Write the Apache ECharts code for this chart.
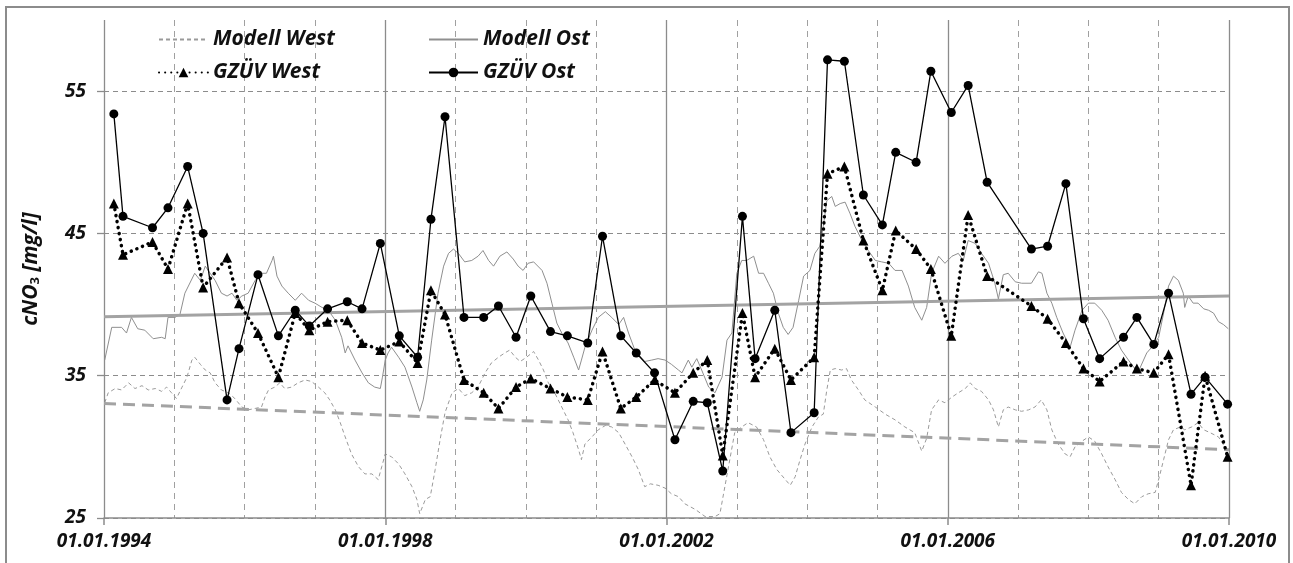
<!DOCTYPE html>
<html>
<head>
<meta charset="utf-8">
<script src="https://cdn.jsdelivr.net/npm/echarts@6/dist/echarts.min.js"></script>
<style>
  html, body { margin: 0; padding: 0; background: #fff; }
  #chart { width: 1293px; height: 563px; }
</style>
</head>
<body>
<div id="chart"></div>
<script>
// decimal years of the GZÜV samples (shared by both stations)
const sampleYears = [1994.14, 1994.27, 1994.69, 1994.91, 1995.19, 1995.41, 1995.75, 1995.92, 1996.19, 1996.48,
  1996.72, 1996.92, 1997.18, 1997.46, 1997.67, 1997.93, 1998.2, 1998.46, 1998.65, 1998.85,
  1999.12, 1999.4, 1999.61, 1999.86, 2000.07, 2000.35, 2000.59, 2000.88, 2001.09, 2001.35,
  2001.57, 2001.83, 2002.12, 2002.38, 2002.58, 2002.8, 2003.08, 2003.26, 2003.54, 2003.77,
  2004.1, 2004.29, 2004.53, 2004.8, 2005.07, 2005.26, 2005.55, 2005.76, 2006.05, 2006.29,
  2006.56, 2007.19, 2007.42, 2007.68, 2007.93, 2008.16, 2008.5, 2008.69, 2008.93, 2009.14,
  2009.46, 2009.66, 2009.98]
const gzuevOst = [53.4, 46.2, 45.4, 46.8, 49.7, 45.0, 33.3, 36.9, 42.1, 37.8,
  39.6, 38.5, 39.7, 40.2, 39.7, 44.3, 37.8, 36.3, 46.0, 53.2,
  39.1, 39.1, 39.9, 37.7, 40.6, 38.1, 37.8, 37.3, 44.8, 37.8,
  36.6, 35.2, 30.5, 33.2, 33.1, 28.3, 46.2, 36.2, 39.6, 31.0,
  32.4, 57.2, 57.1, 47.7, 45.6, 50.7, 50.0, 56.4, 53.5, 55.4,
  48.6, 43.9, 44.1, 48.5, 39.0, 36.2, 37.7, 39.1, 37.2, 40.8,
  33.7, 34.9, 33.0]
const gzuevWest = [47.1, 43.5, 44.4, 42.5, 47.1, 41.2, 43.3, 40.1, 38.0, 34.9,
  39.4, 38.2, 38.8, 38.9, 37.3, 36.8, 37.4, 35.9, 41.0, 39.3,
  34.7, 33.8, 32.7, 34.2, 34.8, 34.1, 33.5, 33.3, 36.7, 32.7,
  33.5, 34.7, 33.8, 35.2, 36.1, 29.4, 39.4, 34.9, 36.9, 34.7,
  36.3, 49.2, 49.7, 44.5, 41.0, 45.2, 43.9, 42.5, 37.8, 46.3,
  42.0, 39.9, 39.0, 37.3, 35.5, 34.6, 36.0, 35.5, 35.2, 36.5,
  27.3, 35.0, 29.3]

const modelOstYears = [1994.01, 1994.11, 1994.25, 1994.32, 1994.39, 1994.48, 1994.58, 1994.70, 1994.82, 1994.87,
  1994.91, 1995.01, 1995.08, 1995.15, 1995.25, 1995.29, 1995.37, 1995.44, 1995.51, 1995.58,
  1995.67, 1995.75, 1995.82, 1995.89, 1995.96, 1996.05, 1996.15, 1996.24, 1996.31, 1996.39,
  1996.41, 1996.46, 1996.53, 1996.62, 1996.72, 1996.81, 1996.91, 1997.00, 1997.10, 1997.19,
  1997.29, 1997.38, 1997.43, 1997.47, 1997.57, 1997.67, 1997.76, 1997.85, 1997.93, 1997.96,
  1998.00, 1998.04, 1998.09, 1998.19, 1998.28, 1998.38, 1998.45, 1998.49, 1998.54, 1998.59,
  1998.66, 1998.75, 1998.83, 1998.90, 1998.97, 1999.04, 1999.13, 1999.23, 1999.32, 1999.39,
  1999.47, 1999.54, 1999.63, 1999.73, 1999.82, 1999.89, 1999.96, 2000.03, 2000.11, 2000.23,
  2000.30, 2000.37, 2000.44, 2000.51, 2000.60, 2000.68, 2000.75, 2000.79, 2000.84, 2000.94,
  2001.03, 2001.13, 2001.22, 2001.32, 2001.39, 2001.46, 2001.55, 2001.69, 2001.79, 2001.88,
  2001.98, 2002.07, 2002.17, 2002.22, 2002.31, 2002.36, 2002.43, 2002.50, 2002.60, 2002.69,
  2002.79, 2002.86, 2002.93, 2003.00, 2003.07, 2003.14, 2003.24, 2003.31, 2003.38, 2003.45,
  2003.52, 2003.59, 2003.66, 2003.73, 2003.80, 2003.88, 2003.95, 2004.04, 2004.11, 2004.18,
  2004.23, 2004.28, 2004.35, 2004.40, 2004.47, 2004.54, 2004.61, 2004.68, 2004.78, 2004.87,
  2004.97, 2005.06, 2005.16, 2005.25, 2005.35, 2005.44, 2005.53, 2005.63, 2005.70, 2005.77,
  2005.87, 2005.96, 2006.06, 2006.15, 2006.22, 2006.29, 2006.39, 2006.48, 2006.58, 2006.67,
  2006.72, 2006.79, 2006.86, 2006.96, 2007.05, 2007.19, 2007.29, 2007.34, 2007.41, 2007.48,
  2007.55, 2007.64, 2007.74, 2007.81, 2007.91, 2008.00, 2008.09, 2008.19, 2008.28, 2008.38,
  2008.47, 2008.57, 2008.66, 2008.73, 2008.83, 2008.90, 2009.00, 2009.07, 2009.14, 2009.21,
  2009.28, 2009.35, 2009.37, 2009.42, 2009.49, 2009.56, 2009.64, 2009.71, 2009.78, 2009.85,
  2009.92, 2009.99]
const modelOst = [36.1, 38.4, 38.4, 38.0, 39.1, 38.3, 38.2, 37.6, 37.7, 37.6,
  39.1, 39.1, 39.3, 40.8, 41.8, 42.2, 41.7, 42.7, 42.2, 41.7,
  40.8, 40.6, 40.8, 40.3, 40.6, 40.8, 41.7, 42.2, 42.2, 43.1,
  43.4, 42.0, 41.3, 40.8, 40.3, 40.8, 40.3, 40.1, 39.8, 39.6,
  38.9, 37.7, 36.6, 37.1, 36.1, 35.2, 34.5, 34.2, 34.1, 34.9,
  36.1, 36.6, 37.0, 36.3, 35.6, 34.2, 33.1, 32.5, 33.3, 34.7,
  37.5, 40.8, 42.7, 43.6, 43.9, 43.6, 43.0, 43.1, 43.4, 43.8,
  43.1, 42.7, 43.4, 43.7, 43.2, 42.7, 42.4, 42.9, 43.0, 42.4,
  41.5, 40.1, 38.7, 38.0, 37.3, 36.3, 35.4, 36.1, 37.0, 38.2,
  39.1, 39.5, 39.1, 38.6, 39.1, 38.0, 36.8, 36.0, 36.1, 36.2,
  36.1, 35.8, 35.4, 35.2, 36.1, 35.6, 36.2, 35.4, 34.2, 33.8,
  34.9, 37.5, 38.0, 42.2, 43.1, 43.1, 43.4, 42.2, 42.2, 41.5,
  40.8, 39.4, 38.4, 37.9, 38.4, 40.3, 42.0, 42.4, 43.6, 44.1,
  45.5, 47.3, 47.6, 46.9, 47.1, 47.2, 46.4, 45.5, 44.5, 43.8,
  43.1, 43.0, 42.9, 42.4, 42.4, 41.3, 39.8, 38.9, 39.8, 42.2,
  43.4, 42.9, 43.4, 43.6, 43.1, 44.5, 44.3, 43.6, 42.9, 41.5,
  40.4, 42.1, 42.2, 41.6, 41.5, 41.5, 42.3, 42.2, 40.8, 40.1,
  39.1, 38.0, 37.0, 38.2, 39.6, 40.1, 40.1, 39.6, 38.9, 37.7,
  36.8, 36.1, 35.5, 35.5, 36.6, 37.0, 37.7, 39.4, 41.3, 42.0,
  41.7, 40.8, 39.8, 40.6, 40.1, 40.1, 39.7, 39.6, 39.4, 38.8,
  38.6, 38.3]

const modelWestYears = [1994.01, 1994.06, 1994.16, 1994.25, 1994.35, 1994.44, 1994.54, 1994.63, 1994.73, 1994.82,
  1994.89, 1994.96, 1995.03, 1995.11, 1995.18, 1995.25, 1995.29, 1995.37, 1995.44, 1995.51,
  1995.58, 1995.67, 1995.77, 1995.86, 1995.96, 1996.05, 1996.15, 1996.24, 1996.29, 1996.34,
  1996.43, 1996.50, 1996.57, 1996.67, 1996.76, 1996.86, 1996.95, 1997.05, 1997.14, 1997.21,
  1997.29, 1997.36, 1997.43, 1997.52, 1997.62, 1997.71, 1997.81, 1997.90, 1997.95, 1998.00,
  1998.09, 1998.19, 1998.28, 1998.38, 1998.45, 1998.49, 1998.57, 1998.64, 1998.71, 1998.78,
  1998.85, 1998.95, 1999.04, 1999.13, 1999.23, 1999.32, 1999.42, 1999.51, 1999.61, 1999.70,
  1999.77, 1999.85, 1999.92, 2000.01, 2000.11, 2000.18, 2000.25, 2000.32, 2000.41, 2000.51,
  2000.60, 2000.67, 2000.75, 2000.79, 2000.84, 2000.94, 2001.03, 2001.13, 2001.22, 2001.32,
  2001.41, 2001.51, 2001.60, 2001.69, 2001.77, 2001.88, 2001.98, 2002.07, 2002.17, 2002.26,
  2002.41, 2002.55, 2002.69, 2002.76, 2002.83, 2002.90, 2002.97, 2003.07, 2003.16, 2003.28,
  2003.38, 2003.47, 2003.57, 2003.69, 2003.76, 2003.83, 2003.90, 2003.97, 2004.07, 2004.16,
  2004.23, 2004.28, 2004.33, 2004.40, 2004.49, 2004.56, 2004.63, 2004.73, 2004.82, 2004.97,
  2005.11, 2005.25, 2005.39, 2005.53, 2005.63, 2005.70, 2005.77, 2005.87, 2005.96, 2006.06,
  2006.15, 2006.25, 2006.32, 2006.39, 2006.48, 2006.58, 2006.65, 2006.72, 2006.79, 2006.86,
  2006.96, 2007.05, 2007.15, 2007.24, 2007.33, 2007.41, 2007.48, 2007.57, 2007.67, 2007.74,
  2007.81, 2007.91, 2008.00, 2008.09, 2008.19, 2008.28, 2008.38, 2008.47, 2008.57, 2008.66,
  2008.76, 2008.85, 2008.95, 2009.02, 2009.07, 2009.14, 2009.21, 2009.31, 2009.37, 2009.47,
  2009.56, 2009.64, 2009.73, 2009.85, 2009.94, 2009.99]
const modelWest = [33.1, 33.8, 34.1, 34.0, 34.5, 34.1, 34.3, 34.0, 34.1, 33.9,
  34.2, 33.8, 33.4, 34.2, 34.9, 36.1, 36.3, 35.8, 35.4, 35.2,
  34.5, 34.0, 33.8, 33.4, 32.8, 32.6, 32.7, 32.8, 33.5, 34.0,
  34.2, 34.5, 34.1, 34.2, 34.5, 34.7, 34.6, 34.2, 33.8, 33.3,
  32.6, 31.7, 30.7, 29.5, 28.6, 28.1, 28.1, 27.7, 28.6, 29.5,
  29.3, 28.8, 28.1, 27.2, 26.3, 25.3, 26.3, 26.5, 28.4, 30.5,
  32.4, 33.8, 34.1, 33.6, 33.8, 34.2, 35.2, 35.9, 36.3, 36.6,
  36.8, 36.3, 36.0, 36.3, 36.7, 36.1, 35.4, 34.5, 33.8, 32.8,
  31.9, 31.0, 29.8, 29.1, 30.2, 30.7, 31.2, 31.5, 31.4, 31.0,
  30.2, 29.3, 28.4, 27.2, 27.4, 27.3, 27.1, 26.7, 26.5, 26.0,
  25.6, 25.1, 25.1, 25.3, 27.2, 29.1, 31.0, 31.4, 31.7, 31.4,
  30.5, 29.3, 28.4, 27.7, 27.3, 27.9, 29.1, 30.2, 31.4, 32.1,
  32.3, 34.0, 35.4, 35.5, 35.4, 35.5, 34.7, 34.0, 33.3, 32.8,
  32.3, 31.9, 31.4, 31.0, 29.7, 30.6, 32.6, 33.3, 33.1, 33.5,
  33.8, 34.1, 34.5, 34.1, 33.9, 33.3, 32.6, 31.4, 32.6, 32.8,
  32.6, 32.5, 32.6, 32.8, 33.3, 32.6, 31.2, 30.2, 29.5, 29.3,
  30.0, 30.4, 30.7, 30.4, 29.5, 28.6, 27.7, 26.8, 26.3, 26.0,
  26.5, 26.7, 26.8, 28.1, 29.1, 30.5, 31.2, 31.4, 31.2, 31.4,
  31.7, 31.2, 31.0, 30.7, 30.0, 29.7]

// linear trends (start / end)
const trendYears = [1994, 2010]
const trendOst = [39.15, 40.6]
const trendWest = [33.05, 29.8]

const yearLabels = [1994, 1998, 2002, 2006, 2010]
const valueLabels = [25, 35, 45, 55]

const zip = (xs, ys) => xs.map((x, i) => [x, ys[i]])

const labelFont = {
  fontFamily: '"Open Sans", Lato, sans-serif',
  fontWeight: 'bold',
  fontStyle: 'italic',
  fontSize: 19,
  color: '#111'
}
const legendFont = Object.assign({}, labelFont, { fontSize: 21 })

// one legend box per entry so the 2x2 layout lines up
function legendBox(item, left, top) {
  return {
    data: [item], left: left, top: top,
    itemWidth: 49, itemHeight: 12,
    textStyle: legendFont
  }
}

const chart = echarts.init(document.getElementById('chart'))

const option = {
  backgroundColor: '#fff',
  animation: false,
  graphic: [{
    type: 'rect',
    shape: { x: 6, y: 7, width: 1283, height: 580 },
    style: { fill: 'none', stroke: '#8c8c8c', lineWidth: 2 },
    silent: true,
    z: -10
  }],
  grid: { left: 104, right: 64, top: 20, bottom: 45 },
  legend: [
    // model lines have no symbol, so hide the legend marker
    legendBox({ name: 'Modell West', itemStyle: { opacity: 0 } }, 153, 24),
    legendBox({ name: 'Modell Ost', itemStyle: { opacity: 0 } }, 423, 24),
    legendBox('GZÜV West', 153, 57),
    legendBox('GZÜV Ost', 423, 57)
  ],
  xAxis: [
    {
      type: 'value', min: 1994, max: 2010,
      axisLine: { lineStyle: { color: '#8c8c8c', width: 1.5 } },
      axisTick: { customValues: yearLabels, length: 7, lineStyle: { color: '#8c8c8c', width: 1.5 } },
      axisLabel: Object.assign({ customValues: yearLabels, margin: 14, formatter: v => '01.01.' + v }, labelFont),
      splitLine: { show: true, lineStyle: { color: '#8c8c8c', width: 1.3 } },
      z: 3
    },
    {
      type: 'value', min: 1994, max: 2010, interval: 1, position: 'top',
      axisLine: { show: false }, axisTick: { show: false }, axisLabel: { show: false },
      splitLine: { show: true, lineStyle: { color: '#a0a0a0', width: 1, type: [6, 5] } }
    }
  ],
  yAxis: {
    type: 'value', min: 25, max: 60,
    name: '{a|cNO}{s|3}{a| [mg/l]}',
    nameLocation: 'middle',
    nameGap: 62,
    nameTextStyle: {
      rich: {
        a: Object.assign({}, labelFont, { fontSize: 21 }),
        s: Object.assign({}, labelFont, { fontSize: 13, fontStyle: 'normal', padding: [9, 0, 0, 0] })
      }
    },
    axisLine: { show: false },
    axisTick: { show: true, customValues: valueLabels, length: 7, lineStyle: { color: '#8c8c8c', width: 1.3 } },
    axisLabel: Object.assign({ customValues: valueLabels, margin: 18 }, labelFont),
    splitLine: { show: true, lineStyle: { color: '#8c8c8c', width: 1.2, type: [5, 4] } }
  },
  series: [
    {
      name: 'Modell West', type: 'line', showSymbol: false, symbol: 'none',
      data: zip(modelWestYears, modelWest),
      lineStyle: { color: '#9a9a9a', width: 1, type: [4, 3] },
      itemStyle: { color: '#9a9a9a' }, z: 2
    },
    {
      name: 'Modell Ost', type: 'line', showSymbol: false, symbol: 'none',
      data: zip(modelOstYears, modelOst),
      lineStyle: { color: '#8f8f8f', width: 1 },
      itemStyle: { color: '#8f8f8f' }, z: 2
    },
    {
      name: 'Trend West', type: 'line', symbol: 'none', silent: true,
      data: zip(trendYears, trendWest),
      lineStyle: { color: '#a3a3a3', width: 3, type: [12, 7] }, z: 3
    },
    {
      name: 'Trend Ost', type: 'line', symbol: 'none', silent: true,
      data: zip(trendYears, trendOst),
      lineStyle: { color: '#a3a3a3', width: 3 }, z: 3
    },
    {
      name: 'GZÜV West', type: 'line', symbol: 'triangle', symbolSize: 10,
      data: zip(sampleYears, gzuevWest),
      lineStyle: { color: '#000', width: 3.5, type: [0.1, 6], cap: 'round' },
      itemStyle: { color: '#000' }, z: 4
    },
    {
      name: 'GZÜV Ost', type: 'line', symbol: 'circle', symbolSize: 9,
      data: zip(sampleYears, gzuevOst),
      lineStyle: { color: '#000', width: 1.3 },
      itemStyle: { color: '#000' }, z: 5
    }
  ]
}

chart.setOption(option)
</script>
</body>
</html>
